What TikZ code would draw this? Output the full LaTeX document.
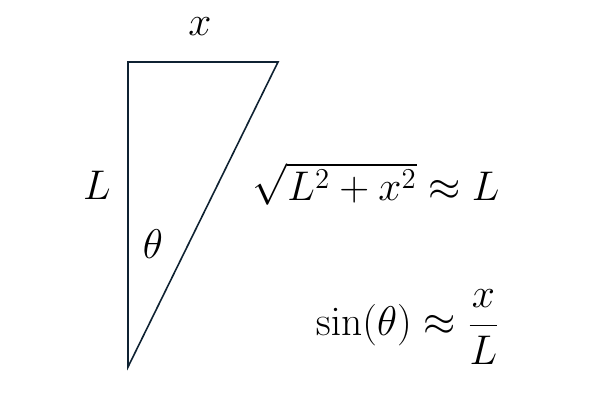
\documentclass[tikz,border=0pt]{standalone}
\usepackage{amsmath}
\definecolor{edge}{HTML}{0F2232}
\begin{document}
\begin{tikzpicture}[x=0.5pt,y=-0.5pt,
  lbl/.style={inner sep=0pt,font=\fontsize{21.5}{26}\selectfont}]
\useasboundingbox (0,0) rectangle (600,400);
\coordinate (tl) at (128,62);
\coordinate (tr) at (278,62);
\coordinate (bl) at (128,367);
\draw[edge,line width=0.8pt,line join=miter] (tl) -- (tr) -- (bl) -- cycle;
\node[lbl] (xl) at (200,27) {$x$};
\node[lbl] (Ll) at (97,185) {$L$};
\node[lbl] (th) at (153,244) {$\theta$};
\node[lbl,anchor=east] (eq1) at (500,184) {$\sqrt{L^2+x^2}\approx L$};
\node[lbl,anchor=east] (eq2) at (500,327) {$\sin(\theta)\approx\dfrac{x}{L}$};
\end{tikzpicture}
\end{document}
